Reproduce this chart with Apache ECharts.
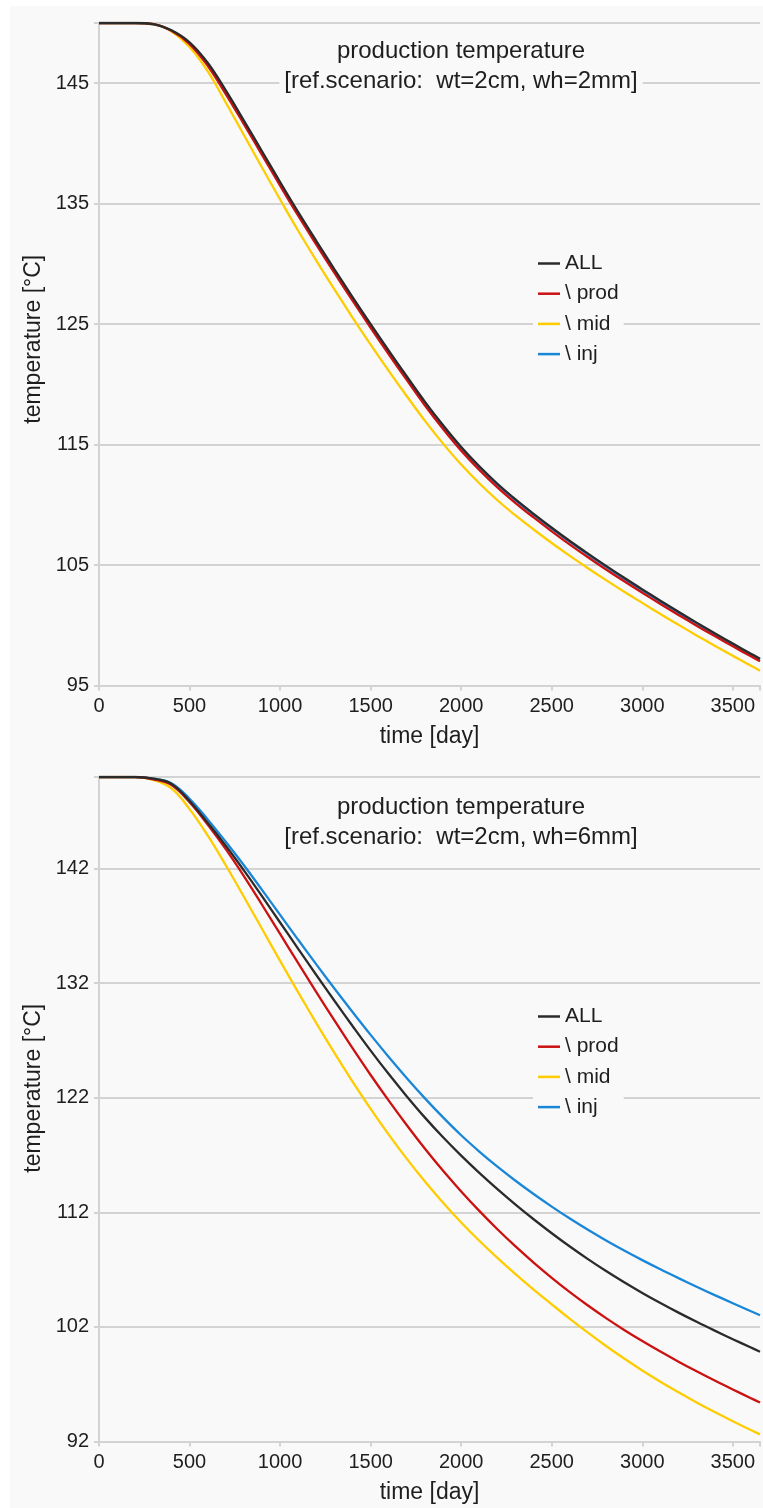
<!DOCTYPE html>
<html>
<head>
<meta charset="utf-8">
<script src="https://cdn.jsdelivr.net/npm/echarts@6/dist/echarts.min.js"></script>
<style>
  html, body { margin: 0; padding: 0; background: #ffffff; }
  #bg { position: absolute; left: 10px; top: 6px; width: 753px; height: 1502px; background: #f8f9f8; }
  #main { position: absolute; left: 0; top: 0; width: 763px; height: 1508px; }
</style>
</head>
<body>
<div id="bg"></div>
<div id="main"></div>
<script>
  // time axis [day]
  var days = [0, 100, 200, 300, 400, 500, 600, 700, 800, 900, 1000, 1100, 1200, 1300, 1400, 1500, 1600, 1700, 1800,
    1900, 2000, 2100, 2200, 2300, 2400, 2500, 2600, 2700, 2800, 2900, 3000, 3100, 3200, 3300, 3400, 3500, 3600, 3650];

  var seriesNames = ['ALL', '\\ prod', '\\ mid', '\\ inj'];
  var seriesColors = ['#2b2b2b', '#cc1111', '#ffcc00', '#1a86d8'];

  // wh=2mm
  var topAll = [150, 150, 150, 149.9, 149.4, 148.4, 146.7, 144.4, 141.9, 139.35, 136.8, 134.3, 131.9, 129.55, 127.25,
    125.0, 122.8, 120.65, 118.55, 116.6, 114.8, 113.2, 111.75, 110.45, 109.25, 108.1, 107.0, 105.95, 104.93, 103.94,
    102.98, 102.04, 101.12, 100.22, 99.34, 98.48, 97.64, 97.23];
  var topProd = [150, 150, 150, 149.9, 149.35, 148.25, 146.45, 144.1, 141.6, 139.05, 136.5, 134.0, 131.6, 129.25, 126.95,
    124.7, 122.5, 120.35, 118.25, 116.3, 114.5, 112.9, 111.45, 110.15, 108.95, 107.8, 106.7, 105.65, 104.63, 103.65,
    102.7, 101.77, 100.86, 99.97, 99.1, 98.25, 97.42, 97.01];
  var topMid = [150, 150, 150, 149.9, 149.3, 148.0, 146.0, 143.4, 140.7, 138.0, 135.35, 132.75, 130.28, 127.88, 125.55,
    123.3, 121.12, 119.01, 116.97, 115.08, 113.34, 111.79, 110.38, 109.12, 107.95, 106.83, 105.76, 104.74, 103.75, 102.79,
    101.86, 100.94, 100.04, 99.16, 98.3, 97.46, 96.64, 96.23];
  var topInj = [150, 150, 150, 149.9, 149.37, 148.34, 146.63, 144.32, 141.82, 139.27, 136.72, 134.22, 131.82, 129.47, 127.17,
    124.92, 122.72, 120.57, 118.47, 116.52, 114.72, 113.12, 111.67, 110.37, 109.17, 108.02, 106.92, 105.87, 104.85, 103.86,
    102.9, 101.96, 101.04, 100.14, 99.26, 98.4, 97.56, 97.15];

  // wh=6mm
  var botAll = [150, 150, 150, 149.85, 149.4, 147.9, 146.0, 144.0, 141.85, 139.6, 137.3, 135.0, 132.72, 130.47, 128.27,
    126.12, 124.07, 122.12, 120.27, 118.55, 116.95, 115.45, 114.03, 112.68, 111.4, 110.18, 109.02, 107.92, 106.88, 105.9,
    104.97, 104.09, 103.25, 102.45, 101.68, 100.93, 100.2, 99.84];
  var botProd = [150, 150, 150, 149.8, 149.3, 147.8, 145.85, 143.7, 141.35, 138.85, 136.3, 133.75, 131.23, 128.75, 126.33,
    123.99, 121.75, 119.6, 117.55, 115.63, 113.83, 112.13, 110.53, 109.03, 107.62, 106.29, 105.04, 103.87, 102.77, 101.74,
    100.77, 99.85, 98.97, 98.13, 97.32, 96.54, 95.78, 95.4];
  var botMid = [150, 150, 150, 149.75, 149.0, 147.2, 144.9, 142.3, 139.55, 136.75, 133.95, 131.2, 128.52, 125.92, 123.42,
    121.04, 118.79, 116.67, 114.69, 112.84, 111.12, 109.52, 108.02, 106.6, 105.25, 103.97, 102.71, 101.5, 100.34, 99.24,
    98.2, 97.22, 96.29, 95.41, 94.57, 93.77, 93.0, 92.62];
  var botInj = [150, 150, 150, 149.85, 149.45, 148.1, 146.3, 144.35, 142.3, 140.15, 137.97, 135.79, 133.64, 131.54, 129.49,
    127.49, 125.56, 123.71, 121.95, 120.29, 118.73, 117.31, 115.99, 114.76, 113.6, 112.5, 111.46, 110.48, 109.55, 108.67,
    107.83, 107.03, 106.26, 105.51, 104.78, 104.07, 103.37, 103.02];

  var titles = ['production temperature\n[ref.scenario:  wt=2cm, wh=2mm]',
    'production temperature\n[ref.scenario:  wt=2cm, wh=6mm]'];
  var yMins = [95, 92];
  var yMax = 150;
  var xMax = 3650;

  var font = 'Liberation Sans, Arial, sans-serif';
  var textColor = '#1e1e1e';
  var gridColor = '#d3d3d3';
  var bgColor = '#f8f9f8';

  var chart = echarts.init(document.getElementById('main'), null, { renderer: 'canvas' });

  function pairs(vals) {
    return days.map(function (d, i) { return [d, vals[i]]; });
  }

  function xAxisOf(idx) {
    return {
      type: 'value', gridIndex: idx, min: 0, max: xMax, interval: 500,
      name: 'time [day]', nameLocation: 'middle', nameGap: 40,
      nameTextStyle: { fontSize: 23, color: textColor, fontFamily: font },
      axisLine: { show: true, lineStyle: { color: gridColor, width: 2 } },
      axisTick: { show: true, length: 5, lineStyle: { color: gridColor, width: 2 } },
      axisLabel: {
        fontSize: 20, color: textColor, fontFamily: font, margin: 11,
        formatter: function (v) { return v % 500 === 0 ? String(v) : ''; }
      },
      splitLine: { show: false }
    };
  }

  function yAxisOf(idx, shift) {
    var mn = yMins[idx];
    return {
      type: 'value', gridIndex: idx, min: mn, max: yMax, interval: 10,
      name: 'temperature [°C]', nameLocation: 'middle', nameGap: 46, nameRotate: 90,
      nameTextStyle: { fontSize: 23, color: textColor, fontFamily: font, padding: [0, 0, 0, shift] },
      axisLine: { show: true, lineStyle: { color: gridColor, width: 2 } },
      axisTick: { show: true, length: 5, lineStyle: { color: gridColor, width: 2 } },
      axisLabel: {
        fontSize: 20, color: textColor, fontFamily: font, margin: 10,
        formatter: function (v) { return (v - mn) % 10 === 0 && v < yMax ? String(v) : ''; }
      },
      splitLine: { show: true, lineStyle: { color: gridColor, width: 2 } }
    };
  }

  function lineSeries(name, color, vals, idx, z) {
    return {
      name: name, type: 'line', xAxisIndex: idx, yAxisIndex: idx,
      data: pairs(vals), symbol: 'none', smooth: 0.4, z: z,
      lineStyle: { color: color, width: 2.3 }, itemStyle: { color: color }
    };
  }

  var topVals = [topAll, topProd, topMid, topInj];
  var botVals = [botAll, botProd, botMid, botInj];
  var zOrder = [5, 4, 3, 2];

  var series = [];
  [topVals, botVals].forEach(function (set, idx) {
    for (var i = 3; i >= 0; i--) {
      series.push(lineSeries(seriesNames[i], seriesColors[i], set[i], idx, zOrder[i]));
    }
  });

  function legendOf(top) {
    return {
      data: seriesNames.map(function (n) { return { name: n, icon: 'rect' }; }),
      orient: 'vertical', left: 533, top: top,
      itemWidth: 22, itemHeight: 2.5, itemGap: 9.2, padding: [3, 5, 3, 5],
      backgroundColor: bgColor, selectedMode: false,
      textStyle: { fontSize: 21, color: textColor, fontFamily: font, lineHeight: 20 }
    };
  }

  function titleOf(text, top) {
    return {
      text: text, left: 456, top: top, textAlign: 'center',
      backgroundColor: bgColor, padding: [2, 5, 2, 5],
      textStyle: { fontSize: 24, fontWeight: 'normal', color: textColor, fontFamily: font, lineHeight: 30 }
    };
  }

  var option = {
    backgroundColor: 'transparent',
    animation: false,
    title: [titleOf(titles[0], 34), titleOf(titles[1], 790)],
    legend: [legendOf(250), legendOf(1003)],
    grid: [
      { left: 99, top: 23, width: 669.5, height: 662.5 },
      { left: 99, top: 777, width: 669.5, height: 664.5 }
    ],
    xAxis: [xAxisOf(0), xAxisOf(1)],
    yAxis: [yAxisOf(0, 30), yAxisOf(1, 42)],
    series: series
  };

  chart.setOption(option);
</script>
</body>
</html>
